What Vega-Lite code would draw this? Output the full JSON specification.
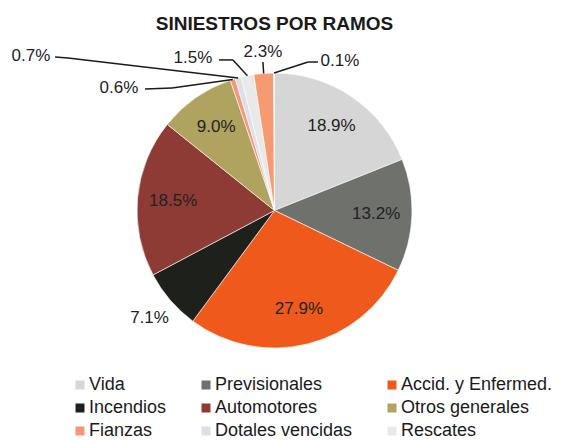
{
  "$schema": "https://vega.github.io/schema/vega-lite/v6.json",
  "autosize": {"type": "none"},
  "padding": {"left": 0, "top": 40, "right": 13, "bottom": 59},
  "width": 549,
  "height": 341,
  "background": "#ffffff",
  "title": {"text": "SINIESTROS POR RAMOS", "font": "Liberation Sans", "fontSize": 19, "fontWeight": "bold", "color": "#1a1a1a", "anchor": "middle", "offset": 6},
  "config": {"view": {"stroke": null}, "font": "Liberation Sans"},
  "data": {"values": [
    {"ramo": "Vida", "value": 18.9, "order": 1},
    {"ramo": "Previsionales", "value": 13.2, "order": 2},
    {"ramo": "Accid. y Enfermed.", "value": 27.9, "order": 3},
    {"ramo": "Incendios", "value": 7.1, "order": 4},
    {"ramo": "Automotores", "value": 18.5, "order": 5},
    {"ramo": "Otros generales", "value": 9.0, "order": 6},
    {"ramo": "Fianzas", "value": 0.6, "order": 7},
    {"ramo": "Dotales vencidas", "value": 0.7, "order": 8},
    {"ramo": "Rescates", "value": 1.5, "order": 9},
    {"ramo": "Otros vida", "value": 2.3, "order": 10},
    {"ramo": "Otros", "value": 0.1, "order": 11}
  ]},
  "transform": [
    {"window": [{"op": "sum", "field": "value", "as": "cum"}], "sort": [{"field": "order", "order": "ascending"}], "frame": [null, 0]},
    {"joinaggregate": [{"op": "sum", "field": "value", "as": "total"}]},
    {"calculate": "(datum.cum - datum.value / 2) / datum.total * 2 * PI", "as": "mid"},
    {"calculate": "format(datum.value, '.1f') + '%'", "as": "label"}
  ],
  "layer": [
    {
      "mark": {"type": "arc", "outerRadius": 137.5, "stroke": "#ffffff", "strokeWidth": 0.6},
      "encoding": {
        "theta": {"field": "value", "type": "quantitative", "stack": true},
        "order": {"field": "order", "type": "quantitative"},
        "color": {
          "field": "ramo", "type": "nominal",
          "scale": {
            "domain": ["Vida", "Previsionales", "Accid. y Enfermed.", "Incendios", "Automotores", "Otros generales", "Fianzas", "Dotales vencidas", "Rescates", "Otros vida", "Otros"],
            "range": ["#d6d6d6", "#6f716d", "#ef5a1c", "#1e201c", "#8e3b36", "#b0a25f", "#f4977a", "#dcdfe6", "#e9e9e9", "#f69a72", "#dedede"]
          },
          "legend": {
            "orient": "none", "legendX": 71, "legendY": 336, "columns": 3, "direction": "horizontal", "title": null,
            "values": ["Vida", "Previsionales", "Accid. y Enfermed.", "Incendios", "Automotores", "Otros generales", "Fianzas", "Dotales vencidas", "Rescates"],
            "symbolType": "square", "symbolSize": 81, "symbolStrokeWidth": 0,
            "labelFontSize": 18, "labelFont": "Liberation Sans", "labelColor": "#1a1a1a",
            "columnPadding": 30, "rowPadding": 5, "gridAlign": "each", "labelOffset": 0
          }
        }
      }
    },
    {
      "transform": [
        {"filter": "datum.value >= 5"},
        {"calculate": "datum.value >= 8 ? 0.74 : 1.2", "as": "r"},
        {"calculate": "sin(datum.mid) * datum.r", "as": "px"},
        {"calculate": "cos(datum.mid) * datum.r", "as": "py"}
      ],
      "mark": {"type": "text", "fontSize": 17, "font": "Liberation Sans", "color": "#222222", "baseline": "middle", "align": "center"},
      "encoding": {
        "x": {"field": "px", "type": "quantitative", "scale": {"domain": [-1.9964, 1.9964], "nice": false, "zero": false}, "axis": null},
        "y": {"field": "py", "type": "quantitative", "scale": {"domain": [-1.24, 1.24], "nice": false, "zero": false}, "axis": null},
        "text": {"field": "label", "type": "nominal"}
      }
    },
    {
      "transform": [
        {"filter": "datum.value < 5"},
        {"calculate": "sin(datum.mid)", "as": "ex"},
        {"calculate": "cos(datum.mid)", "as": "ey"},
        {"calculate": "[-0.745, -1.502, -0.302, -0.084, 0.244][datum.order - 7]", "as": "bx"},
        {"calculate": "[0.891, 1.109, 1.095, 1.080, 1.080][datum.order - 7]", "as": "by"}
      ],
      "mark": {"type": "rule", "color": "#1a1a1a", "strokeWidth": 1.5},
      "encoding": {
        "x": {"field": "ex", "type": "quantitative", "scale": {"domain": [-1.9964, 1.9964], "nice": false, "zero": false}, "axis": null},
        "y": {"field": "ey", "type": "quantitative", "scale": {"domain": [-1.24, 1.24], "nice": false, "zero": false}, "axis": null},
        "x2": {"field": "bx"},
        "y2": {"field": "by"}
      }
    },
    {
      "transform": [
        {"filter": "datum.value < 5"},
        {"calculate": "[-0.745, -1.502, -0.302, -0.084, 0.244][datum.order - 7]", "as": "bx"},
        {"calculate": "[0.891, 1.109, 1.095, 1.080, 1.080][datum.order - 7]", "as": "by"},
        {"calculate": "[-0.942, -1.596, -0.404, -0.084, 0.316][datum.order - 7]", "as": "tx"},
        {"calculate": "[0.884, 1.116, 1.095, 1.080, 1.080][datum.order - 7]", "as": "ty"}
      ],
      "mark": {"type": "rule", "color": "#1a1a1a", "strokeWidth": 1.5},
      "encoding": {
        "x": {"field": "bx", "type": "quantitative", "scale": {"domain": [-1.9964, 1.9964], "nice": false, "zero": false}, "axis": null},
        "y": {"field": "by", "type": "quantitative", "scale": {"domain": [-1.24, 1.24], "nice": false, "zero": false}, "axis": null},
        "x2": {"field": "tx"},
        "y2": {"field": "ty"}
      }
    },
    {
      "transform": [
        {"filter": "datum.value < 5"},
        {"calculate": "[-1.131, -1.771, -0.593, -0.084, 0.476][datum.order - 7]", "as": "lx"},
        {"calculate": "[0.891, 1.124, 1.109, 1.153, 1.087][datum.order - 7]", "as": "ly"}
      ],
      "mark": {"type": "text", "fontSize": 17, "font": "Liberation Sans", "color": "#222222", "baseline": "middle", "align": "center"},
      "encoding": {
        "x": {"field": "lx", "type": "quantitative", "scale": {"domain": [-1.9964, 1.9964], "nice": false, "zero": false}, "axis": null},
        "y": {"field": "ly", "type": "quantitative", "scale": {"domain": [-1.24, 1.24], "nice": false, "zero": false}, "axis": null},
        "text": {"field": "label", "type": "nominal"}
      }
    }
  ]
}
